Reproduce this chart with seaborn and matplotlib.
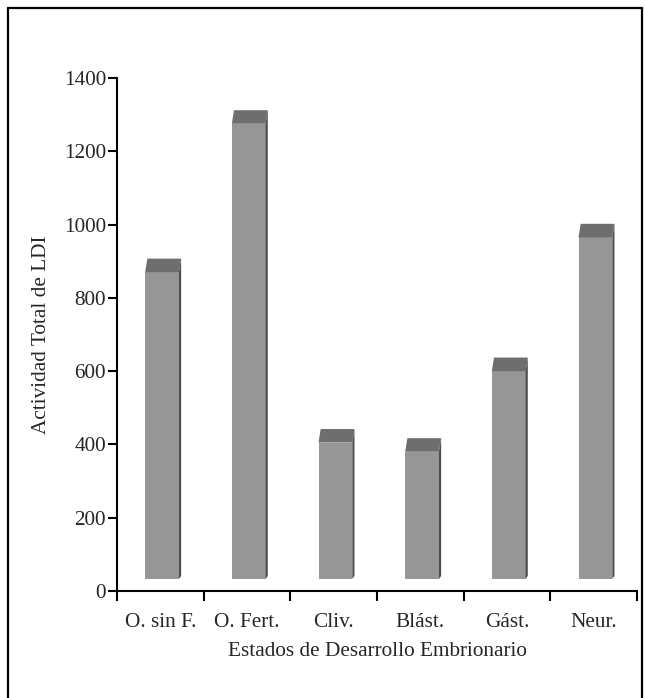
import matplotlib
matplotlib.use("Agg")
import matplotlib.pyplot as plt
from matplotlib.patches import Polygon
from matplotlib.lines import Line2D
import seaborn as sns
import pandas as pd

estados = ["O. sin F.", "O. Fert.", "Cliv.", "Blást.", "Gást.", "Neur."]
actividad = [870, 1275, 405, 380, 600, 965]

df = pd.DataFrame({"estado": estados, "actividad": actividad})

sns.set_style("ticks")
plt.rcParams["font.family"] = ["Liberation Serif", "DejaVu Serif"]

fig = plt.figure(figsize=(6.45, 6.98), dpi=100)
ax = fig.add_axes([0.1814, 0.1533, 0.8062, 0.735])

sns.barplot(data=df, x="estado", y="actividad", color="#969696",
            saturation=1, width=0.39, ax=ax, zorder=2)

# fake 3D look: lifted front face, dark top and right side
base = 33
depth = 37
dx = 0.025
for p, v in zip(ax.patches, actividad):
    p.set_x(p.get_x() + 0.02)
    p.set_y(base)
    p.set_height(v - base)
    p.set_edgecolor("none")
    x0 = p.get_x()
    x1 = x0 + p.get_width()
    ax.add_patch(Polygon([(x0, v), (x1, v), (x1 + dx, v + depth),
                          (x0 + dx, v + depth)], closed=True,
                         facecolor="#6e6e6e", edgecolor="none", zorder=2))
    ax.add_patch(Polygon([(x1, base), (x1 + dx, base + 8),
                          (x1 + dx, v + depth), (x1, v)], closed=True,
                         facecolor="#4e4e4e", edgecolor="none", zorder=2))

ax.set_xlim(-0.5, 5.5)
ax.set_ylim(0, 1400)
ax.set_yticks(range(0, 1401, 200))
ax.set_xticks([i - 0.5 for i in range(7)])
ax.set_xticklabels([])
ax.set_xticks(range(6), minor=True)
ax.set_xticklabels(estados, minor=True)
ax.tick_params(axis="x", which="major", length=7.2, width=1.5, color="black")
ax.tick_params(axis="x", which="minor", length=0, pad=16, labelsize=15.3)
ax.tick_params(axis="y", length=6.5, width=1.5, pad=1.5, labelsize=15.3,
               color="black")
sns.despine(ax=ax)
for s in ["left", "bottom"]:
    ax.spines[s].set_linewidth(1.5)
    ax.spines[s].set_color("black")

ax.set_xlabel("Estados de Desarrollo Embrionario", fontsize=15.3, labelpad=7)
ax.set_ylabel("Actividad Total de LDI", fontsize=15.3, labelpad=9)

# outer frame
W, H = 645, 698
fig.add_artist(Line2D([8 / W, 8 / W], [0, 1 - 8 / H], color="black", lw=1.6))
fig.add_artist(Line2D([8 / W, 642 / W], [1 - 8 / H, 1 - 8 / H], color="black", lw=1.6))
fig.add_artist(Line2D([642 / W, 642 / W], [0, 1 - 8 / H], color="black", lw=1.6))

fig.savefig("out.png", dpi=100)
